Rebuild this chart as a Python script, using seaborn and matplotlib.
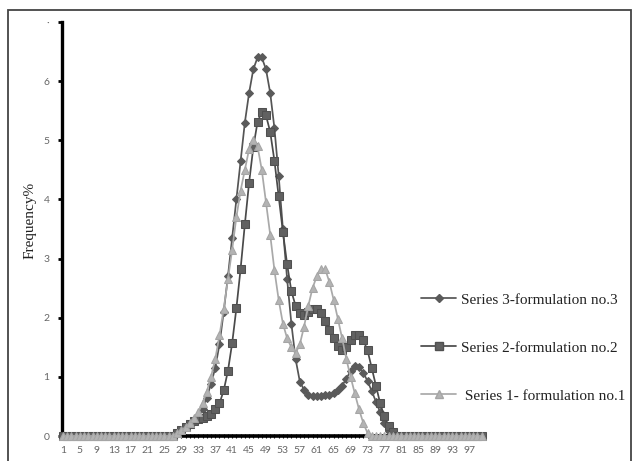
import matplotlib
matplotlib.use("Agg")
import matplotlib.pyplot as plt
import seaborn as sns
import pandas as pd
from matplotlib.lines import Line2D
from matplotlib.patches import Rectangle

# ---------------- data ----------------
categories = list(range(1, 101))

series3 = [0] * 27 + [
    0.05, 0.10, 0.15, 0.20, 0.25, 0.32, 0.45, 0.65, 0.88, 1.15,
    1.55, 2.10, 2.70, 3.35, 4.00, 4.65, 5.30, 5.80, 6.20, 6.40,
    6.40, 6.20, 5.80, 5.20, 4.40, 3.50, 2.65, 1.90, 1.30, 0.92,
    0.78, 0.70, 0.68, 0.68, 0.68, 0.69, 0.70, 0.73, 0.78, 0.85,
    0.97, 1.10, 1.18, 1.17, 1.07, 0.93, 0.76, 0.58, 0.40, 0.22,
    0.08] + [0] * 22

series2 = [0] * 27 + [
    0.05, 0.10, 0.15, 0.20, 0.25, 0.28, 0.30, 0.33, 0.38, 0.45,
    0.55, 0.77, 1.10, 1.57, 2.16, 2.83, 3.58, 4.28, 4.88, 5.31,
    5.48, 5.42, 5.14, 4.65, 4.05, 3.45, 2.90, 2.45, 2.20, 2.08,
    2.05, 2.10, 2.15, 2.14, 2.08, 1.95, 1.80, 1.65, 1.52, 1.46,
    1.50, 1.62, 1.70, 1.70, 1.62, 1.45, 1.15, 0.85, 0.55, 0.33,
    0.17, 0.06] + [0] * 21

series1 = [0] * 27 + [
    0.05, 0.10, 0.15, 0.22, 0.30, 0.40, 0.55, 0.75, 1.00, 1.30,
    1.70, 2.15, 2.65, 3.15, 3.70, 4.15, 4.50, 4.85, 5.00, 4.90,
    4.50, 3.95, 3.40, 2.80, 2.30, 1.90, 1.65, 1.50, 1.40, 1.55,
    1.85, 2.20, 2.50, 2.70, 2.82, 2.82, 2.60, 2.30, 1.98, 1.65,
    1.30, 1.00, 0.72, 0.45, 0.22, 0.05] + [0] * 27

series_names = ["Series 3-formulation no.3",
                "Series 2-formulation no.2",
                " Series 1- formulation no.1"]
y_ticks = [0, 1, 2, 3, 4, 5, 6, 7]
y_ticklabels = ["0", "1", "2", "3", "4", "5", "6", "·"]
x_ticklabels = [str(c) if (c - 1) % 4 == 0 else "" for c in categories]

df = pd.DataFrame({"cat": categories, "s3": series3, "s2": series2, "s1": series1})

# ---------------- figure ----------------
sns.set_style("white")
plt.rcParams["font.family"] = ["DejaVu Sans"]

W, H = 635, 461
fig = plt.figure(figsize=(W / 100, H / 100), dpi=100)
ax = fig.add_axes([62 / W, 1 - 436 / H, (482 - 62) / W, (436 - 22) / H])

styles = [
    ("s3", dict(color="#555555", marker="D", markersize=4.0, markerfacecolor="#5a5a5a",
                markeredgecolor="#5a5a5a", linewidth=1.25)),
    ("s2", dict(color="#4a4a4a", marker="s", markersize=5.4, markerfacecolor="#616161",
                markeredgecolor="#505050", linewidth=1.25)),
    ("s1", dict(color="#a9a9a9", marker="^", markersize=5.6, markerfacecolor="#b3b3b3",
                markeredgecolor="#a5a5a5", linewidth=1.25)),
]
for col, kw in styles:
    sns.lineplot(data=df, x="cat", y=col, ax=ax, clip_on=False, zorder=3, **kw)

ax.set_xlim(0.77, 100.07)
ax.set_ylim(0, 7)
ax.set_xlabel("")
ax.set_ylabel("")

for s in ["top", "right"]:
    ax.spines[s].set_visible(False)
ax.spines["left"].set_linewidth(2.4)
ax.spines["left"].set_color("black")
ax.spines["bottom"].set_linewidth(2.6)
ax.spines["bottom"].set_color("black")
ax.spines["left"].set_zorder(2)
ax.spines["bottom"].set_zorder(2)

ax.set_yticks(y_ticks)
ax.set_yticklabels(y_ticklabels)
ax.set_xticks(categories)
ax.set_xticklabels(x_ticklabels)
ax.tick_params(axis="y", length=3, width=2, color="black", pad=6,
               labelsize=7.5, labelcolor="#666666", left=True)
ax.tick_params(axis="x", length=2.5, width=0.8, color="black", pad=6,
               labelsize=7.5, labelcolor="#666666", bottom=True, direction="inout")
for lab in ax.get_xticklabels() + ax.get_yticklabels():
    lab.set_family(["Lato", "DejaVu Sans"])

# y label
fig.text(30 / W, 1 - 220 / H, "Frequency%", rotation=90, ha="center", va="center",
         fontsize=11, family=["Liberation Serif", "DejaVu Serif"], color="#222222")

# legend
handles = [Line2D([0], [0], **styles[i][1]) for i in range(3)]
leg = fig.legend(handles, series_names, loc="upper left",
                 bbox_to_anchor=(421 / W, 1 - 293 / H), frameon=False,
                 prop={"family": "Liberation Serif", "size": 11},
                 handlelength=2.3, handletextpad=0.35, labelspacing=2.25,
                 borderpad=0, borderaxespad=0)
for t in leg.get_texts():
    t.set_color("#222222")

# outer frame
fig.patches.append(Rectangle((8 / W, -0.05), (631 - 8) / W, 1 - 10 / H + 0.05,
                             transform=fig.transFigure, fill=False,
                             edgecolor="#444444", linewidth=1.3))

fig.savefig("out.png", dpi=100, facecolor="white")
